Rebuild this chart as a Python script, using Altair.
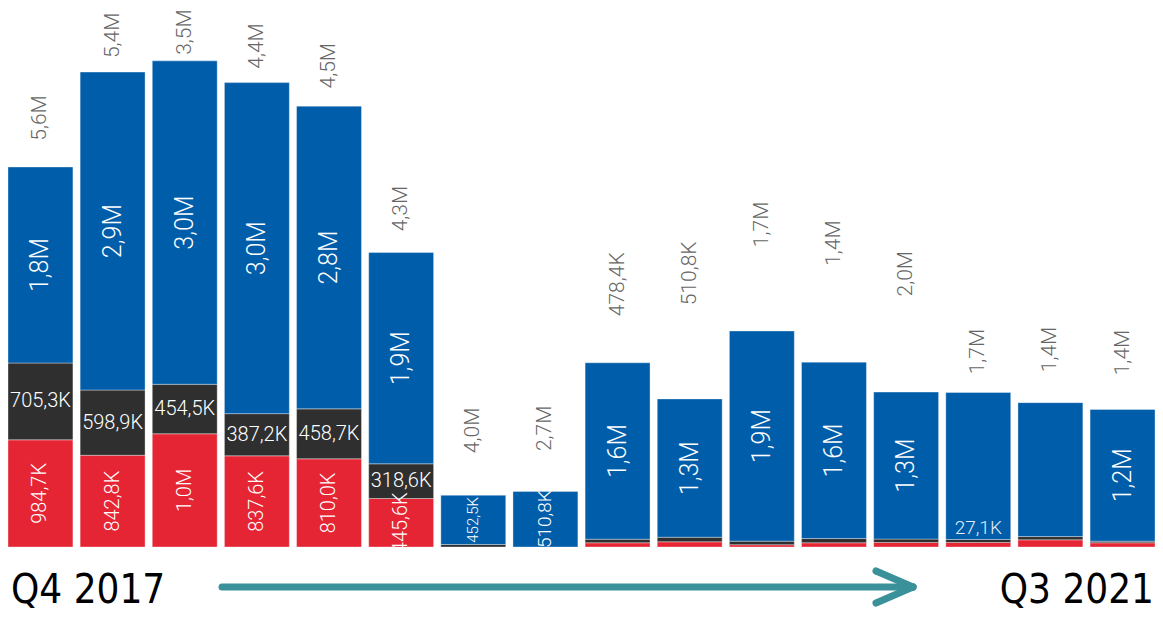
import altair as alt
import pandas as pd

quarters = ["Q4 2017", "Q1 2018", "Q2 2018", "Q3 2018", "Q4 2018", "Q1 2019", "Q2 2019", "Q3 2019",
            "Q4 2019", "Q1 2020", "Q2 2020", "Q3 2020", "Q4 2020", "Q1 2021", "Q2 2021", "Q3 2021"]
red_vals = [984700, 842800, 1040000, 837600, 810000, 445600, 0, 0,
            39000, 48000, 21000, 39000, 42000, 42000, 66000, 39000]
dark_vals = [705300, 598900, 454500, 387200, 458700, 318600, 23000, 0,
             33000, 42000, 33000, 39000, 31000, 27100, 30000, 15000]
blue_vals = [1800000, 2920000, 2970000, 3040000, 2780000, 1940000, 452500, 510800,
             1620000, 1270000, 1930000, 1620000, 1350000, 1350000, 1230000, 1210000]
red_labels = ["984,7K", "842,8K", "1,0M", "837,6K", "810,0K", "445,6K", "", "",
              "", "", "", "", "", "", "", ""]
dark_labels = ["705,3K", "598,9K", "454,5K", "387,2K", "458,7K", "318,6K", "", "",
               "", "", "", "", "", "27,1K", "", ""]
blue_labels = ["1,8M", "2,9M", "3,0M", "3,0M", "2,8M", "1,9M", "452,5K", "510,8K",
               "1,6M", "1,3M", "1,9M", "1,6M", "1,3M", "", "", "1,2M"]
top_labels = ["5,6M", "5,4M", "3,5M", "4,4M", "4,5M", "4,3M", "4,0M", "2,7M",
              "478,4K", "510,8K", "1,7M", "1,4M", "2,0M", "1,7M", "1,4M", "1,4M"]
top_label_level = [3731000, 4490000, 4520000, 4392000, 4211000, 2899000, 862000, 881000,
                   2120000, 2220000, 2754000, 2582000, 2301000, 1586000, 1605000, 1577000]

wide = pd.DataFrame({
    "quarter": quarters, "red": red_vals, "dark": dark_vals, "blue": blue_vals,
    "red_label": red_labels, "dark_label": dark_labels, "blue_label": blue_labels,
    "top_label": top_labels, "top_level": top_label_level,
})
wide["dark_top"] = wide["red"] + wide["dark"]
wide["blue_top"] = wide["dark_top"] + wide["blue"]
wide["red_mid"] = wide["red"] / 2
wide["dark_mid"] = wide["red"] + wide["dark"] / 2
wide["blue_mid"] = wide["dark_top"] + wide["blue"] / 2

rows = []
for _, r in wide.iterrows():
    rows.append({"quarter": r.quarter, "segment": "red", "start": 0, "end": r.red})
    rows.append({"quarter": r.quarter, "segment": "dark", "start": r.red, "end": r.dark_top})
    rows.append({"quarter": r.quarter, "segment": "blue", "start": r.dark_top, "end": r.blue_top})
long = pd.DataFrame(rows)
long = long[long["end"] > long["start"]]

FONT = "Roboto"
x_enc = alt.X("quarter:N", sort=quarters, scale=alt.Scale(paddingInner=0.1, paddingOuter=0), axis=None)
yscale = alt.Scale(domain=[-615000, 4950000], nice=False, zero=False)

bars = alt.Chart(long).mark_bar(stroke="white", strokeOpacity=0.45, strokeWidth=0.8).encode(
    x=x_enc,
    y=alt.Y("start:Q", scale=yscale, axis=None),
    y2="end:Q",
    color=alt.Color("segment:N", scale=alt.Scale(domain=["red", "dark", "blue"],
                                                 range=["#E52534", "#2F2F2F", "#005DAA"]), legend=None),
)

blue_text = alt.Chart(wide).transform_filter("datum.blue_label != ''").mark_text(
    angle=270, align="center", baseline="middle", color="white", font=FONT, fontWeight=300
).encode(
    x=x_enc, y=alt.Y("blue_mid:Q", scale=yscale, axis=None), text="blue_label:N",
    size=alt.Size("blue:Q", scale=alt.Scale(type="threshold", domain=[480000, 1000000], range=[15, 19, 25]),
                  legend=None),
)

dark_text = alt.Chart(wide).transform_filter("datum.dark_label != '' && datum.dark > 100000").mark_text(
    align="center", baseline="middle", color="white", font=FONT, fontWeight=300, fontSize=20
).encode(x=x_enc, y=alt.Y("dark_mid:Q", scale=yscale, axis=None), text="dark_label:N")

dark_small_text = alt.Chart(wide).transform_filter("datum.dark_label != '' && datum.dark <= 100000").mark_text(
    align="center", baseline="bottom", dy=-2, color="#E6EEF8", font=FONT, fontWeight=300, fontSize=19
).encode(x=x_enc, y=alt.Y("dark_top:Q", scale=yscale, axis=None), text="dark_label:N")

red_text = alt.Chart(wide).transform_filter("datum.red_label != ''").mark_text(
    angle=270, align="center", baseline="middle", color="white", font=FONT, fontWeight=300, fontSize=20
).encode(x=x_enc, y=alt.Y("red_mid:Q", scale=yscale, axis=None), text="red_label:N")

top_text = alt.Chart(wide).mark_text(
    angle=270, align="left", baseline="middle", color="#666666", font=FONT, fontWeight=300, fontSize=21
).encode(x=x_enc, y=alt.Y("top_level:Q", scale=yscale, axis=None), text="top_label:N")

one = pd.DataFrame({"k": [0]})
ARROW = "#3A9199"
arrow_line = alt.Chart(one).mark_rule(color=ARROW, strokeWidth=7, strokeCap="round").encode(
    x=alt.value(214), x2=alt.value(905), y=alt.value(579), y2=alt.value(579))
arrow_up = alt.Chart(one).mark_rule(color=ARROW, strokeWidth=7, strokeCap="round").encode(
    x=alt.value(868), x2=alt.value(905), y=alt.value(563), y2=alt.value(579))
arrow_dn = alt.Chart(one).mark_rule(color=ARROW, strokeWidth=7, strokeCap="round").encode(
    x=alt.value(868), x2=alt.value(905), y=alt.value(595), y2=alt.value(579))

QFONT = "DejaVu Sans Condensed, Liberation Sans, sans-serif"
start_txt = alt.Chart(pd.DataFrame({"t": ["Q4 2017"]})).mark_text(
    align="left", baseline="alphabetic", font=QFONT, fontSize=40, color="black"
).encode(x=alt.value(3), y=alt.value(595), text="t:N")
end_txt = alt.Chart(pd.DataFrame({"t": ["Q3 2021"]})).mark_text(
    align="right", baseline="alphabetic", font=QFONT, fontSize=40, color="black"
).encode(x=alt.value(1146), y=alt.value(595), text="t:N")

chart = alt.layer(
    bars, blue_text, dark_text, dark_small_text, red_text, top_text,
    arrow_line, arrow_up, arrow_dn, start_txt, end_txt
).properties(
    width=1147, height=606, padding=0,
    autosize=alt.AutoSizeParams(type="none"),
).configure_view(stroke=None)

chart.save("out.html", embed_options={"renderer": "svg", "actions": False})
